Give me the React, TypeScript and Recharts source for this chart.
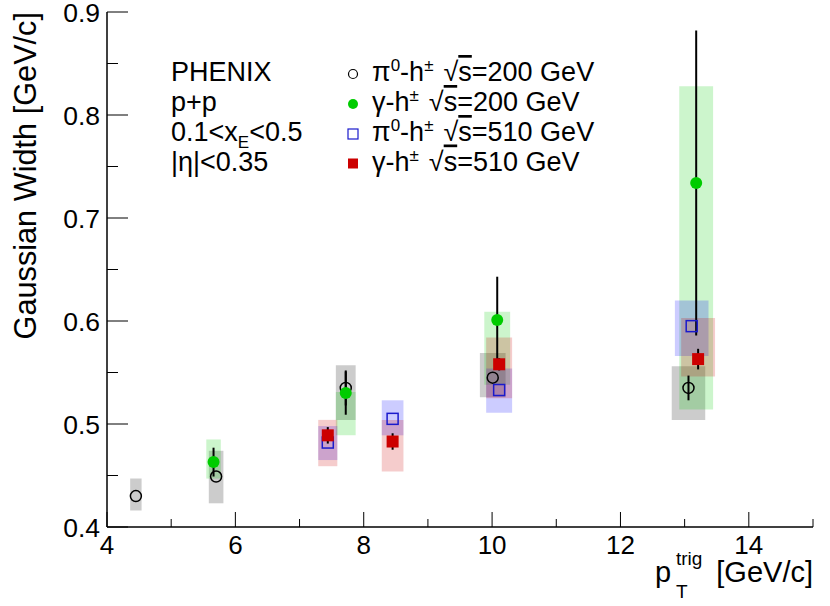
import { ScatterChart, Scatter, XAxis, YAxis, ErrorBar, ReferenceArea } from 'recharts'

// pi0-h, sqrt(s)=200 GeV
const pi200Pt = [4.45, 5.7, 7.72, 10.01, 13.06]
const pi200Width = [0.43, 0.449, 0.535, 0.545, 0.535]
const pi200Stat = [0, 0, 0.017, 0, 0.012]
const pi200SysLo = [0.416, 0.423, 0.504, 0.526, 0.504]
const pi200SysHi = [0.447, 0.474, 0.557, 0.569, 0.556]

// gamma-h, sqrt(s)=200 GeV
const gam200Pt = [5.66, 7.72, 10.08, 13.18]
const gam200Width = [0.463, 0.53, 0.601, 0.734]
const gam200Stat = [0.014, 0.021, 0.042, 0.148]
const gam200SysLo = [0.447, 0.489, 0.538, 0.514]
const gam200SysHi = [0.485, 0.531, 0.609, 0.828]

// pi0-h, sqrt(s)=510 GeV
const pi510Pt = [7.44, 8.45, 10.11, 13.11]
const pi510Width = [0.482, 0.505, 0.533, 0.595]
const pi510Stat = [0, 0, 0, 0]
const pi510SysLo = [0.465, 0.489, 0.511, 0.566]
const pi510SysHi = [0.498, 0.523, 0.554, 0.62]

// gamma-h, sqrt(s)=510 GeV
const gam510Pt = [7.44, 8.45, 10.11, 13.21]
const gam510Width = [0.489, 0.483, 0.558, 0.563]
const gam510Stat = [0.008, 0.008, 0.006, 0.01]
const gam510SysLo = [0.459, 0.454, 0.525, 0.546]
const gam510SysHi = [0.504, 0.504, 0.584, 0.603]

const xTicks = [4, 5, 6, 7, 8, 9, 10, 11, 12, 13, 14, 15]
const xLabels = [4, 6, 8, 10, 12, 14]
const yTicks = [0.4, 0.45, 0.5, 0.55, 0.6, 0.65, 0.7, 0.75, 0.8, 0.85, 0.9]
const yLabels = [0.4, 0.5, 0.6, 0.7, 0.8, 0.9]

const infoLines = ['PHENIX', 'p+p']

const FONT = '"Liberation Sans", Arial, Helvetica, sans-serif'
const W = 830
const H = 606
const PLOT = { left: 107, top: 12, right: 813, bottom: 527 }
const BOX_FRAC = 0.02 // half width of the systematic boxes, relative to pT
const LEG_FS = 27

const rows = (pt: number[], w: number[], stat: number[]) =>
  pt.map((x, i) => ({ x, y: w[i], err: [stat[i], stat[i]] }))

const boxes = (pt: number[], lo: number[], hi: number[]) =>
  pt.map((x, i) => ({ x1: x * (1 - BOX_FRAC), x2: x * (1 + BOX_FRAC), y1: lo[i], y2: hi[i] }))

const OpenCircle = ({ cx, cy }: any) => (
  <circle cx={cx} cy={cy} r={5.5} fill="none" stroke="#000" strokeWidth={1.5} />
)
const GreenDot = ({ cx, cy }: any) => <circle cx={cx} cy={cy} r={6} fill="#00cc00" />
const OpenSquare = ({ cx, cy }: any) => (
  <rect x={cx - 5.5} y={cy - 5.5} width={11} height={11} fill="none" stroke="#1a1acc" strokeWidth={1.5} />
)
const RedSquare = ({ cx, cy }: any) => <rect x={cx - 6} y={cy - 6} width={12} height={12} fill="#cc0000" />
const Nothing = () => <g />

const series = [
  { key: 'pi200', data: rows(pi200Pt, pi200Width, pi200Stat), box: boxes(pi200Pt, pi200SysLo, pi200SysHi), boxColor: '#000000', shape: OpenCircle },
  { key: 'gam200', data: rows(gam200Pt, gam200Width, gam200Stat), box: boxes(gam200Pt, gam200SysLo, gam200SysHi), boxColor: '#00cc00', shape: GreenDot },
  { key: 'pi510', data: rows(pi510Pt, pi510Width, pi510Stat), box: boxes(pi510Pt, pi510SysLo, pi510SysHi), boxColor: '#0000ff', shape: OpenSquare },
  { key: 'gam510', data: rows(gam510Pt, gam510Width, gam510Stat), box: boxes(gam510Pt, gam510SysLo, gam510SysHi), boxColor: '#cc0000', shape: RedSquare },
]

const near = (list: number[], v: number) => list.some((l) => Math.abs(l - v) < 1e-6)

const BottomTick = ({ x, payload }: any) => {
  const major = near(xLabels, payload.value)
  return (
    <g>
      <line x1={x} x2={x} y1={PLOT.bottom} y2={PLOT.bottom - (major ? 15 : 8)} stroke="#000" />
      {major && (
        <text x={x} y={PLOT.bottom + 27} textAnchor="middle" fontSize={26} fontFamily={FONT} fill="#000">
          {payload.value}
        </text>
      )}
    </g>
  )
}
const TopTick = ({ x, payload }: any) => {
  const major = near(xLabels, payload.value)
  return <line x1={x} x2={x} y1={PLOT.top} y2={PLOT.top + (major ? 15 : 8)} stroke="#000" />
}
const LeftTick = ({ y, payload }: any) => {
  const major = near(yLabels, payload.value)
  return (
    <g>
      <line x1={PLOT.left} x2={PLOT.left + (major ? 21 : 11)} y1={y} y2={y} stroke="#000" />
      {major && (
        <text x={PLOT.left - 7} y={y + 9.5} textAnchor="end" fontSize={26.5} fontFamily={FONT} fill="#000">
          {payload.value.toFixed(1)}
        </text>
      )}
    </g>
  )
}
const RightTick = ({ y, payload }: any) => {
  const major = near(yLabels, payload.value)
  return <line x1={PLOT.right} x2={PLOT.right - (major ? 21 : 11)} y1={y} y2={y} stroke="#000" />
}

const LegendEntry = ({ x, y, pi, energy }: { x: number; y: number; pi: boolean; energy: string }) => (
  <text x={x} y={y} fontSize={LEG_FS} fontFamily={FONT} fill="#000">
    {pi ? 'π' : 'γ'}
    {pi && (
      <tspan dy={-10} fontSize={17}>
        0
      </tspan>
    )}
    <tspan dy={pi ? 10 : 0}>-h</tspan>
    <tspan dy={-10} fontSize={17}>
      ±
    </tspan>
    <tspan dy={10} dx={10}>
      √
    </tspan>
    <tspan style={{ textDecoration: 'overline' }}>s</tspan>
    <tspan>{`=${energy} GeV`}</tspan>
  </text>
)

const axisLine = { stroke: '#000', strokeWidth: 1.5 }

export default function App() {
  const rowY = [81, 111, 141, 170.5]
  return (
    <div style={{ position: 'absolute', left: 0, top: 0, width: W, height: H, background: '#fff' }}>
      <ScatterChart width={W} height={H} margin={{ top: PLOT.top, right: W - PLOT.right, bottom: 0, left: 0 }}>
        <XAxis
          xAxisId="b"
          type="number"
          dataKey="x"
          domain={[4, 15]}
          ticks={xTicks}
          interval={0}
          allowDataOverflow
          height={H - PLOT.bottom}
          tickSize={0}
          tickLine={false}
          axisLine={axisLine}
          tick={<BottomTick />}
        />
        <XAxis
          xAxisId="t"
          orientation="top"
          type="number"
          dataKey="x"
          domain={[4, 15]}
          ticks={xTicks}
          interval={0}
          allowDataOverflow
          height={0}
          tickSize={0}
          tickLine={false}
          axisLine={axisLine}
          tick={<TopTick />}
        />
        <YAxis
          yAxisId="l"
          type="number"
          dataKey="y"
          domain={[0.4, 0.9]}
          ticks={yTicks}
          interval={0}
          allowDataOverflow
          width={PLOT.left}
          tickSize={0}
          tickLine={false}
          axisLine={axisLine}
          tick={<LeftTick />}
        />
        <YAxis
          yAxisId="r"
          orientation="right"
          type="number"
          dataKey="y"
          domain={[0.4, 0.9]}
          ticks={yTicks}
          interval={0}
          allowDataOverflow
          width={0}
          tickSize={0}
          tickLine={false}
          axisLine={axisLine}
          tick={<RightTick />}
        />
        {series.map((s) =>
          s.box.map((b, i) => (
            <ReferenceArea
              key={`${s.key}-box-${i}`}
              xAxisId="b"
              yAxisId="l"
              x1={b.x1}
              x2={b.x2}
              y1={b.y1}
              y2={b.y2}
              fill={s.boxColor}
              fillOpacity={0.2}
              stroke="none"
              ifOverflow="visible"
            />
          ))
        )}
        {/* statistical error bars first, markers drawn on top of them */}
        {series.map((s) => (
          <Scatter
            key={`${s.key}-err`}
            xAxisId="b"
            yAxisId="l"
            data={s.data}
            shape={Nothing}
            isAnimationActive={false}
          >
            <ErrorBar dataKey="err" direction="y" width={0} stroke="#000" strokeWidth={2} />
          </Scatter>
        ))}
        {series.map((s) => (
          <Scatter
            key={s.key}
            xAxisId="b"
            yAxisId="l"
            data={s.data}
            shape={s.shape}
            isAnimationActive={false}
          />
        ))}
      </ScatterChart>

      <svg width={W} height={H} style={{ position: 'absolute', left: 0, top: 0, pointerEvents: 'none' }}>
        <text transform="rotate(-90)" x={-12} y={36} textAnchor="end" fontSize={30.7} fontFamily={FONT} fill="#000">
          Gaussian Width [GeV/c]
        </text>
        <text x={655} y={582} fontSize={29} fontFamily={FONT} fill="#000">
          p
        </text>
        <text x={676} y={565} fontSize={19} fontFamily={FONT} fill="#000">
          trig
        </text>
        <text x={676} y={598} fontSize={19} fontFamily={FONT} fill="#000">
          T
        </text>
        <text x={PLOT.right} y={582} textAnchor="end" fontSize={29} fontFamily={FONT} fill="#000">
          [GeV/c]
        </text>

        {infoLines.map((t, i) => (
          <text key={t} x={171} y={rowY[i]} fontSize={LEG_FS} fontFamily={FONT} fill="#000">
            {t}
          </text>
        ))}
        <text x={171} y={rowY[2]} fontSize={LEG_FS} fontFamily={FONT} fill="#000">
          0.1&lt;x
          <tspan dy={7} fontSize={17}>
            E
          </tspan>
          <tspan dy={-7}>&lt;0.5</tspan>
        </text>
        <text x={171} y={rowY[3]} fontSize={LEG_FS} fontFamily={FONT} fill="#000">
          |η|&lt;0.35
        </text>

        <circle cx={353} cy={rowY[0] - 7} r={4.5} fill="none" stroke="#000" strokeWidth={1.2} />
        <circle cx={353} cy={rowY[1] - 7} r={5} fill="#00cc00" />
        <rect x={348} y={rowY[2] - 12} width={10} height={10} fill="none" stroke="#1a1acc" strokeWidth={1.2} />
        <rect x={348} y={rowY[3] - 12} width={10} height={10} fill="#cc0000" />

        <LegendEntry x={372} y={rowY[0]} pi energy="200" />
        <LegendEntry x={372} y={rowY[1]} pi={false} energy="200" />
        <LegendEntry x={372} y={rowY[2]} pi energy="510" />
        <LegendEntry x={372} y={rowY[3]} pi={false} energy="510" />
      </svg>
    </div>
  )
}
